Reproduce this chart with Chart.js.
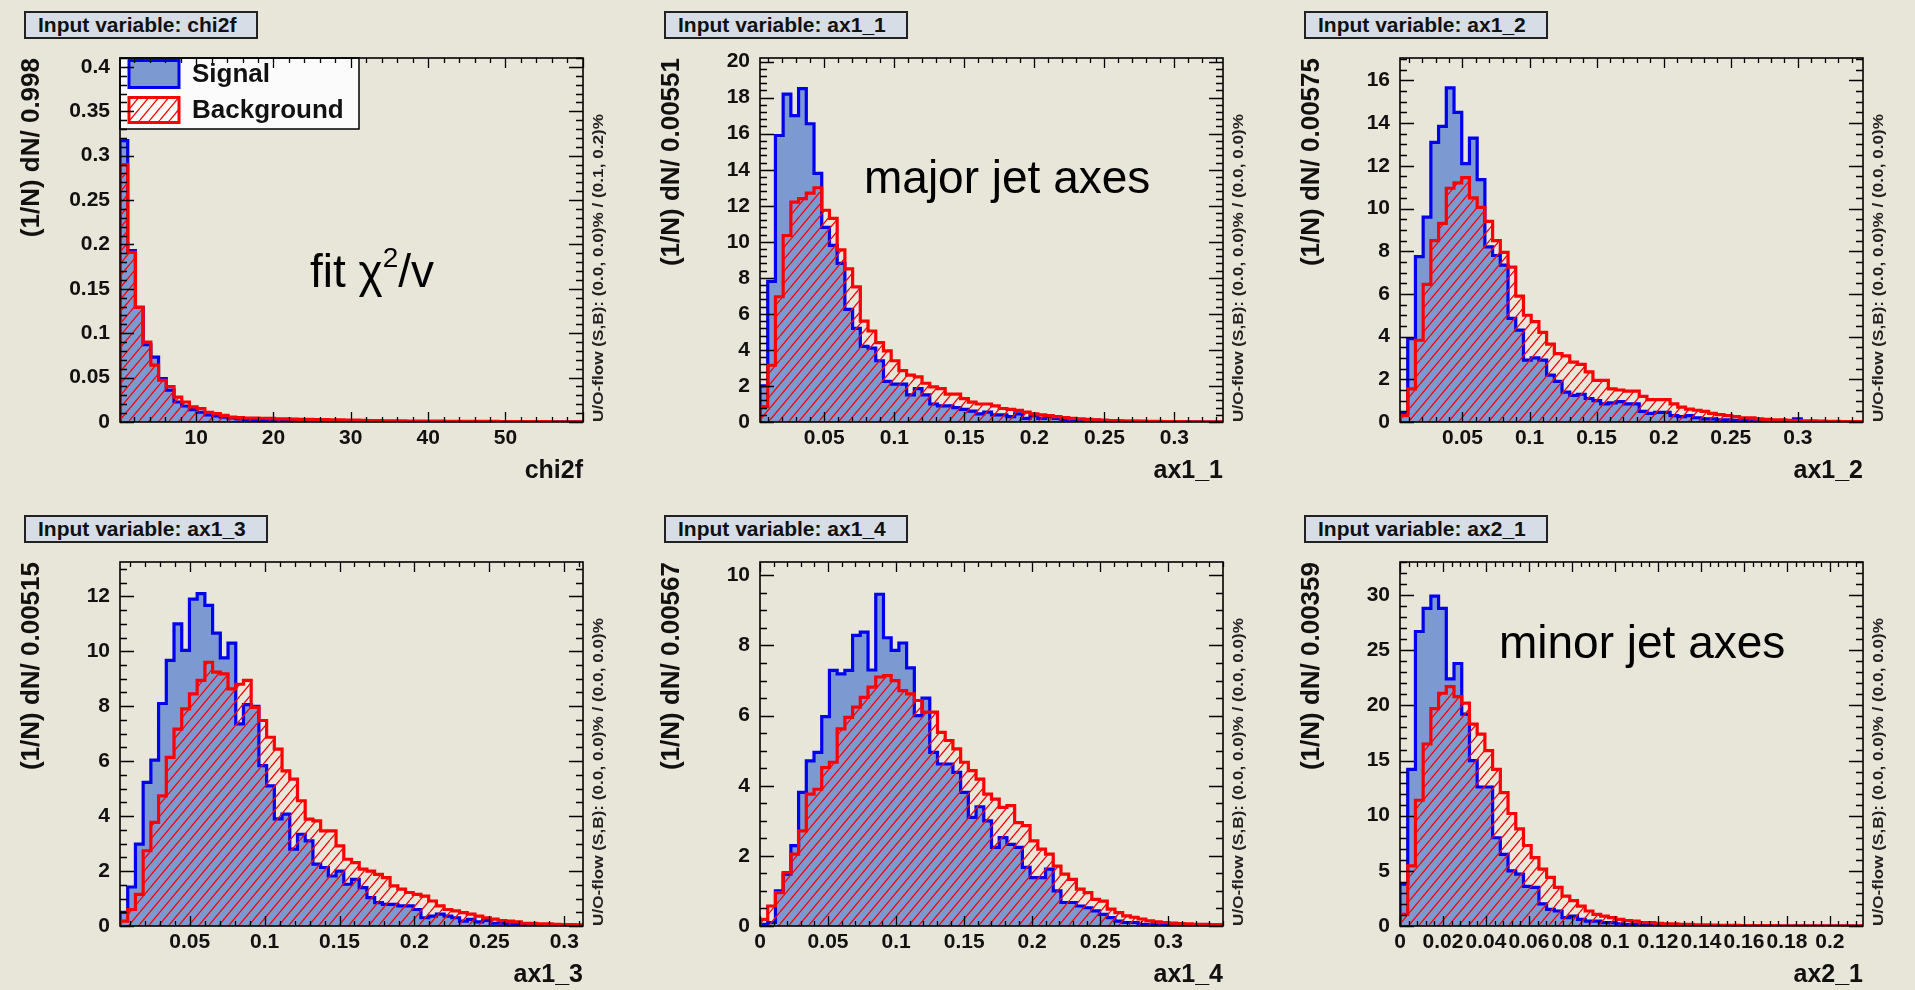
<!DOCTYPE html>
<html><head><meta charset="utf-8">
<script src="https://cdn.jsdelivr.net/npm/chart.js@4.4.1/dist/chart.umd.min.js"></script>
<style>
html,body{margin:0;padding:0;background:#e8e5d9;width:1915px;height:990px;overflow:hidden;font-family:"Liberation Sans",Arial,sans-serif;}
.panel{position:absolute;width:640px;height:486px;}
.panel canvas{position:absolute;left:0;top:0;}
.tbox{position:absolute;left:24px;top:11px;height:24px;background:#d6dde6;border:2px solid #222;font-weight:bold;font-size:21px;line-height:24px;padding:0 20px 0 12px;color:#111;white-space:nowrap;}
.note{position:absolute;font-size:46px;line-height:46px;color:#000;white-space:nowrap;}
.note sup{font-size:28px;position:relative;top:-4px;vertical-align:top;line-height:28px;}
</style></head><body>
<script>
// ---------------- data ----------------
const chi2fSignal = [0.317,0.193,0.129,0.087,0.073,0.049,0.036,0.0225,0.018,0.014, 0.011,0.008,0.007,0.0055,0.0045,0.0035,0.003,0.0025,0.002,0.002, 0.0015,0.0015,0.0012,0.001,0.001,0.0008,0.0008,0.0006,0.0006,0.0005, 0.0004,0.0004,0.0003,0.0003,0.0003,0.0002,0.0002,0.0002,0.0002,0.0001, 0.0001,0.0001,0.0001,0.0001,0.0001,0.0001,0.0001,0.0001,0.0001,0.0001, 0.0001,0.0001,0.0001,0.0001,0.0001,0.0001,0.0001,0.0001,0.0001,0.0001];
const chi2fBackground = [0.290,0.191,0.129,0.090,0.064,0.047,0.040,0.028,0.0225,0.017, 0.015,0.011,0.0094,0.0075,0.0056,0.005,0.0045,0.0045,0.0042,0.004, 0.0035,0.0035,0.0032,0.003,0.003,0.0028,0.0026,0.0025,0.0024,0.0022, 0.002,0.0018,0.0016,0.0015,0.0014,0.0013,0.0012,0.0011,0.001,0.001, 0.0009,0.0009,0.0008,0.0008,0.0007,0.0007,0.0006,0.0006,0.0006,0.0005, 0.0005,0.0005,0.0004,0.0004,0.0004,0.0004,0.0003,0.0003,0.0003,0.0003];
const ax1_1Signal = [2.0,7.8,15.9,18.2,17.0,18.5,16.55,13.8,10.8,9.8, 8.8,6.25,5.2,4.2,4.1,3.4,2.25,2.1,2.1,1.5, 1.85,1.5,1.0,0.9,0.9,0.8,0.7,0.6,0.45,0.55, 0.4,0.4,0.3,0.45,0.2,0.35,0.2,0.3,0.2,0.15, 0.15,0.1,0.1,0.1,0.08,0.05,0.05,0.04,0.03,0.03, 0.02,0.02,0.02,0.01,0.01,0.01,0.01,0,0,0];
const ax1_1Background = [0.85,3.15,6.95,10.35,12.2,12.4,12.7,13.0,11.75,11.3, 9.55,8.5,7.5,5.6,5.05,4.4,3.95,3.4,2.85,2.6, 2.5,2.15,1.95,1.85,1.55,1.55,1.3,1.1,1.0,1.0, 0.9,0.75,0.7,0.65,0.55,0.45,0.4,0.35,0.3,0.25, 0.2,0.18,0.15,0.12,0.1,0.08,0.06,0.05,0.05,0.04, 0.03,0.03,0.02,0.02,0.02,0.01,0.01,0.01,0.01,0.01];
const ax1_2Signal = [0.4,3.9,7.75,9.6,13.1,13.85,15.65,14.5,12.1,13.3, 11.35,8.2,7.8,7.35,4.85,4.3,2.9,3.0,2.9,2.2, 1.9,1.4,1.25,1.3,1.1,1.0,0.85,0.9,0.95,0.85, 0.85,0.5,0.4,0.45,0.45,0.3,0.25,0.3,0.2,0.15, 0.15,0.1,0.1,0.08,0.06,0.05,0.05,0.04,0.04,0.03, 0.03,0.15,0.02,0.02,0.02,0.01,0.01,0.01,0.01,0.01];
const ax1_2Background = [0.3,1.55,3.83,6.45,8.5,9.3,10.95,11.2,11.45,10.5, 10.05,9.4,8.5,7.95,7.25,5.9,5.0,4.7,4.2,3.65, 3.2,3.1,2.8,2.7,2.35,1.95,1.95,1.55,1.5,1.45, 1.45,1.2,1.05,1.05,1.05,0.85,0.7,0.6,0.55,0.5, 0.4,0.35,0.3,0.25,0.2,0.2,0.15,0.12,0.1,0.1, 0.08,0.06,0.05,0.05,0.04,0.03,0.03,0.02,0.02,0.02];
const ax1_3Signal = [0.5,1.42,2.98,5.23,6.04,8.1,9.67,11.0,10.03,11.9, 12.1,11.67,10.66,9.76,10.3,7.36,8.06,8.0,5.84,5.1, 3.9,4.07,2.8,3.34,3.1,2.25,2.13,1.82,2.0,1.52, 1.7,1.4,1.03,0.85,0.79,0.79,0.73,0.73,0.6,0.3, 0.36,0.43,0.36,0.3,0.18,0.24,0.15,0.2,0.1,0.1, 0.08,0.06,0.05,0.04,0.03,0.02,0.02,0.01,0.01,0.01];
const ax1_3Background = [0.18,0.6,1.15,2.74,3.77,4.74,6.14,7.17,7.9,8.45, 8.94,9.6,9.24,9.18,8.63,8.8,8.94,7.96,7.48,6.87, 6.44,5.65,5.35,4.56,3.89,3.83,3.46,3.46,2.92,2.43, 2.31,2.07,2.0,1.88,1.76,1.46,1.34,1.22,1.15,1.09, 0.91,0.73,0.6,0.55,0.49,0.43,0.36,0.3,0.25,0.2, 0.18,0.15,0.1,0.1,0.08,0.08,0.06,0.05,0.05,0.04];
const ax1_4Signal = [0.05,0.1,1.0,1.48,2.29,3.81,4.71,4.95,5.97,7.29, 7.19,7.29,8.29,8.38,7.3,9.46,8.22,7.86,8.07,7.36, 6.0,6.5,4.95,4.62,4.62,4.38,3.81,3.1,3.4,3.0, 2.24,2.52,2.33,2.24,1.67,1.38,1.38,1.62,1.0,0.67, 0.67,0.57,0.52,0.43,0.33,0.24,0.14,0.1,0.1,0.05, 0.05,0.03,0.02,0.02,0.01,0.01,0.01,0,0,0];
const ax1_4Background = [0.19,0.57,0.95,1.52,2.05,2.71,3.76,3.9,4.52,4.67, 5.62,5.95,6.24,6.52,6.81,7.1,7.14,7.0,6.71,6.62, 6.43,6.1,6.1,5.52,5.29,5.05,4.67,4.43,4.19,3.76, 3.62,3.38,3.43,2.95,2.86,2.43,2.19,2.05,1.71,1.48, 1.33,1.05,0.95,0.76,0.71,0.48,0.38,0.29,0.25,0.2, 0.15,0.12,0.1,0.08,0.07,0.06,0.05,0.05,0.04,0.04];
const ax2_1Signal = [3.8,14.2,26.7,28.8,29.9,28.8,22.4,23.8,19.2,15.0, 12.6,12.6,8.0,6.5,5.0,4.7,3.6,3.5,2.0,1.5, 1.36,0.76,0.9,0.6,0.45,0.45,0.3,0.3,0.2,0.15, 0.15,0.1,0.1,0.08,0.06,0.05,0.04,0.03,0.03,0.02, 0.02,0.01,0.01,0.01,0.01,0.01,0,0,0,0, 0,0,0,0,0,0,0,0,0,0];
const ax2_1Background = [1.06,5.45,11.4,16.5,19.7,21.1,21.7,20.8,20.2,18.3, 17.4,15.9,14.2,12.1,10.2,8.8,7.3,6.2,5.15,4.4, 3.5,2.7,2.3,1.8,1.36,1.06,0.9,0.76,0.6,0.5, 0.45,0.3,0.3,0.25,0.2,0.2,0.15,0.15,0.1,0.1, 0.08,0.06,0.05,0.05,0.04,0.04,0.03,0.03,0.03,0.02, 0.02,0.02,0.02,0.01,0.01,0.01,0.01,0.01,0.01,0.01];

// bin layout: [first bin lower edge, bin width]
const chi2fBins = [0.15, 0.998];
const ax1_1Bins = [0.0041, 0.00551];
const ax1_2Bins = [0.0035, 0.00575];
const ax1_3Bins = [0.0035, 0.00515];
const ax1_4Bins = [0.0, 0.00567];
const ax2_1Bins = [0.0, 0.00359];

// axis tick labels
const chi2fXTicks = [10,20,30,40,50];
const chi2fYTicks = [0,0.05,0.1,0.15,0.2,0.25,0.3,0.35,0.4];
const ax1_1XTicks = [0.05,0.1,0.15,0.2,0.25,0.3];
const ax1_1YTicks = [0,2,4,6,8,10,12,14,16,18,20];
const ax1_2XTicks = [0.05,0.1,0.15,0.2,0.25,0.3];
const ax1_2YTicks = [0,2,4,6,8,10,12,14,16];
const ax1_3XTicks = [0.05,0.1,0.15,0.2,0.25,0.3];
const ax1_3YTicks = [0,2,4,6,8,10,12];
const ax1_4XTicks = [0,0.05,0.1,0.15,0.2,0.25,0.3];
const ax1_4YTicks = [0,2,4,6,8,10];
const ax2_1XTicks = [0,0.02,0.04,0.06,0.08,0.1,0.12,0.14,0.16,0.18,0.2];
const ax2_1YTicks = [0,5,10,15,20,25,30];
const yMaxima = [0.41, 20.2, 17.05, 13.25, 10.38, 33.0];

const seriesNames = ['Signal', 'Background'];
const variableNames = ['chi2f','ax1_1','ax1_2','ax1_3','ax1_4','ax2_1'];
const binWidthLabels = ['0.998','0.00551','0.00575','0.00515','0.00567','0.00359'];
const overflowTexts = ['U/O-flow (S,B): (0.0, 0.0)% / (0.1, 0.2)%','U/O-flow (S,B): (0.0, 0.0)% / (0.0, 0.0)%','U/O-flow (S,B): (0.0, 0.0)% / (0.0, 0.0)%','U/O-flow (S,B): (0.0, 0.0)% / (0.0, 0.0)%','U/O-flow (S,B): (0.0, 0.0)% / (0.0, 0.0)%','U/O-flow (S,B): (0.0, 0.0)% / (0.0, 0.0)%'];

// ---------------- drawing ----------------
const FONT = '"Liberation Sans", Arial, sans-serif';
const SIG_FILL = '#7d99d1', SIG_LINE = '#0000f0', BKG_LINE = '#ff0000';

function makeHatch() {
  const w = 10, h = 12;
  const c = document.createElement('canvas'); c.width = w; c.height = h;
  const g = c.getContext('2d');
  g.clearRect(0, 0, w, h);
  g.strokeStyle = '#ff0000'; g.lineWidth = 1.3;
  g.beginPath();
  for (const dx of [-w, 0, w]) {
    g.moveTo(dx, h); g.lineTo(dx + w, 0);
  }
  g.stroke();
  return c;
}

function histPoints(bins, vals) {
  const [x0, w] = bins;
  const pts = [{x: x0, y: 0}];
  vals.forEach((v, i) => pts.push({x: x0 + i * w, y: v}));
  pts.push({x: x0 + vals.length * w, y: vals[vals.length - 1]});
  pts.push({x: x0 + vals.length * w, y: 0});
  return pts;
}

const rootFrame = {
  id: 'rootFrame',
  afterDatasetsDraw(chart, args, o) {
    const ctx = chart.ctx, a = chart.chartArea, xs = chart.scales.x, ys = chart.scales.y;
    ctx.save();
    if (o.legend) {
      const lw = 239, lh = 71;
      ctx.fillStyle = '#fbfbfb';
      ctx.fillRect(a.left, a.top, lw, lh);
      ctx.strokeStyle = '#000'; ctx.lineWidth = 1.5;
      ctx.strokeRect(a.left, a.top, lw, lh);
      const ds = chart.data.datasets;
      const items = [ds.find(d => d.label === seriesNames[0]), ds.find(d => d.label === seriesNames[1])];
      const rows = [[a.top + 2.5, 27], [a.top + 39.5, 25]];
      items.forEach((d, i) => {
        const [ty, th] = rows[i];
        ctx.fillStyle = '#fff'; ctx.fillRect(a.left + 9, ty, 50, th);
        ctx.fillStyle = d.backgroundColor; ctx.fillRect(a.left + 9, ty, 50, th);
        ctx.strokeStyle = d.borderColor; ctx.lineWidth = 3; ctx.strokeRect(a.left + 9, ty, 50, th);
        ctx.fillStyle = '#111'; ctx.font = 'bold 26px ' + FONT; ctx.textBaseline = 'middle'; ctx.textAlign = 'left';
        ctx.fillText(d.label, a.left + 72, ty + th / 2 + 1);
      });
    }
    ctx.strokeStyle = '#000'; ctx.lineWidth = 1.3;
    ctx.beginPath();
    const addTicks = (scale, minor, major, horiz) => {
      const k0 = Math.ceil(scale.min / minor - 1e-6), k1 = Math.floor(scale.max / minor + 1e-6);
      for (let k = k0; k <= k1; k++) {
        const v = k * minor;
        const r = v / major;
        const isMajor = Math.abs(r - Math.round(r)) < 1e-5;
        const p = Math.round(scale.getPixelForValue(v)) + 0.5;
        if (horiz) {
          const L = isMajor ? 10 : 5;
          ctx.moveTo(p, a.bottom); ctx.lineTo(p, a.bottom - L);
          ctx.moveTo(p, a.top); ctx.lineTo(p, a.top + L);
        } else {
          const L = isMajor ? 14 : 7;
          ctx.moveTo(a.left, p); ctx.lineTo(a.left + L, p);
          ctx.moveTo(a.right, p); ctx.lineTo(a.right - L, p);
        }
      }
    };
    addTicks(xs, o.xMinor, o.xMajor, true);
    addTicks(ys, o.yMinor, o.yMajor, false);
    ctx.stroke();
    ctx.lineWidth = 1.6;
    ctx.strokeRect(a.left, a.top, a.right - a.left, a.bottom - a.top);
    // under/overflow note, rotated, reading upwards
    ctx.translate(a.right + 16, a.bottom);
    ctx.rotate(-Math.PI / 2);
    ctx.font = 'bold 14px ' + FONT;
    const w = ctx.measureText(o.uo).width;
    ctx.scale(308 / w, 1);
    ctx.fillStyle = '#222'; ctx.textBaseline = 'middle'; ctx.textAlign = 'left';
    ctx.fillText(o.uo, 0, 0);
    ctx.restore();
  }
};

const hatchCanvas = makeHatch();

const panelDefs = [
  {sig: chi2fSignal, bkg: chi2fBackground, bins: chi2fBins, xt: chi2fXTicks, yt: chi2fYTicks, xMinor: 2, yMinor: 0.01, legend: true, note: 'fit χ<sup>2</sup>/v', noteX: 310, noteY: 248},
  {sig: ax1_1Signal, bkg: ax1_1Background, bins: ax1_1Bins, xt: ax1_1XTicks, yt: ax1_1YTicks, xMinor: 0.01, yMinor: 0.4, note: 'major jet axes', noteX: 224, noteY: 154},
  {sig: ax1_2Signal, bkg: ax1_2Background, bins: ax1_2Bins, xt: ax1_2XTicks, yt: ax1_2YTicks, xMinor: 0.01, yMinor: 0.5},
  {sig: ax1_3Signal, bkg: ax1_3Background, bins: ax1_3Bins, xt: ax1_3XTicks, yt: ax1_3YTicks, xMinor: 0.01, yMinor: 0.5},
  {sig: ax1_4Signal, bkg: ax1_4Background, bins: ax1_4Bins, xt: ax1_4XTicks, yt: ax1_4YTicks, xMinor: 0.01, yMinor: 0.5},
  {sig: ax2_1Signal, bkg: ax2_1Background, bins: ax2_1Bins, xt: ax2_1XTicks, yt: ax2_1YTicks, xMinor: 0.004, yMinor: 1, note: 'minor jet axes', noteX: 219, noteY: 115},
];

panelDefs.forEach((p, i) => {
  const col = i % 3, row = Math.floor(i / 3);
  const div = document.createElement('div');
  div.className = 'panel';
  div.style.left = (col * 640) + 'px';
  div.style.top = (row * 504) + 'px';
  document.body.appendChild(div);
  const cv = document.createElement('canvas');
  cv.width = 640; cv.height = 486;
  cv.style.width = '640px'; cv.style.height = '486px';
  div.appendChild(cv);
  const tb = document.createElement('div');
  tb.className = 'tbox';
  tb.textContent = 'Input variable: ' + variableNames[i];
  div.appendChild(tb);
  if (p.note) {
    const n = document.createElement('div');
    n.className = 'note';
    n.innerHTML = p.note;
    n.style.left = p.noteX + 'px'; n.style.top = p.noteY + 'px';
    div.appendChild(n);
  }
  const ctx = cv.getContext('2d');
  const hatch = ctx.createPattern(hatchCanvas, 'repeat');
  const [x0, bw] = p.bins;
  const xmax = x0 + p.sig.length * bw;
  const tickFont = {family: FONT, size: 21, weight: 'bold'};
  const titleFont = {family: FONT, size: 26, weight: 'bold'};
  const xTitleFont = {family: FONT, size: 25, weight: 'bold'};
  new Chart(cv, {
    type: 'line',
    data: {
      datasets: [
        {label: seriesNames[1], data: histPoints(p.bins, p.bkg), order: 0, stepped: 'before',
         borderColor: BKG_LINE, borderWidth: 3.2, backgroundColor: hatch, fill: 'origin', pointRadius: 0, borderJoinStyle: 'miter'},
        {label: seriesNames[0], data: histPoints(p.bins, p.sig), order: 1, stepped: 'before',
         borderColor: SIG_LINE, borderWidth: 3.2, backgroundColor: SIG_FILL, fill: 'origin', pointRadius: 0, borderJoinStyle: 'miter'}
      ]
    },
    options: {
      responsive: false, animation: false, devicePixelRatio: 1,
      layout: {padding: {left: 0, top: 58, right: 57, bottom: 0}},
      plugins: {
        legend: {display: false}, tooltip: {enabled: false},
        rootFrame: {legend: !!p.legend, xMinor: p.xMinor, xMajor: p.xt[1] - p.xt[0], yMinor: p.yMinor, yMajor: p.yt[1] - p.yt[0], uo: overflowTexts[i]}
      },
      scales: {
        x: {
          type: 'linear', min: x0, max: xmax,
          afterFit: s => { s.height = 64; },
          afterBuildTicks: s => { s.ticks = p.xt.map(v => ({value: v})); },
          ticks: {autoSkip: false, maxRotation: 0, minRotation: 0, padding: 4, color: '#111', font: tickFont, callback: v => String(v)},
          grid: {display: false, drawTicks: false}, border: {display: false},
          title: {display: true, text: variableNames[i], align: 'end', color: '#111', font: xTitleFont, padding: {top: 0, bottom: 0}}
        },
        y: {
          type: 'linear', min: 0, max: yMaxima[i],
          afterFit: s => { s.width = 120; },
          afterBuildTicks: s => { s.ticks = p.yt.map(v => ({value: v})); },
          ticks: {autoSkip: false, padding: 10, color: '#111', font: tickFont, callback: v => String(v)},
          grid: {display: false, drawTicks: false}, border: {display: false},
          title: {display: true, text: '(1/N) dN/ ' + binWidthLabels[i], align: 'end', color: '#111', font: titleFont, padding: {top: 16, bottom: 0}}
        }
      }
    },
    plugins: [rootFrame]
  });
});
</script>
</body></html>
